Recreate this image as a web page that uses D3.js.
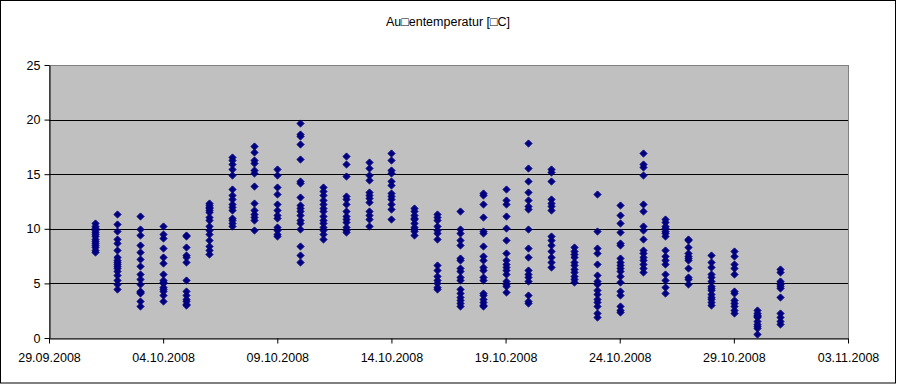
<!DOCTYPE html>
<html><head><meta charset="utf-8">
<script src="https://cdn.jsdelivr.net/npm/d3@7"></script>
<style>
html,body{margin:0;padding:0;background:#fff;}
svg text{font-family:"Liberation Sans",Arial,sans-serif;font-size:12.5px;fill:#000;}
</style></head>
<body>
<svg id="chart" width="897" height="384"></svg>
<script>
const titleText = "Au\u25A1entemperatur [\u25A1C]";
const xTickLabels = ["29.09.2008","04.10.2008","09.10.2008","14.10.2008","19.10.2008","24.10.2008","29.10.2008","03.11.2008"];
const yTicks = [0,5,10,15,20,25];
const days = ["01.10.2008","02.10.2008","03.10.2008","04.10.2008","05.10.2008","06.10.2008","07.10.2008","08.10.2008",
  "09.10.2008","10.10.2008","11.10.2008","12.10.2008","13.10.2008","14.10.2008","15.10.2008","16.10.2008",
  "17.10.2008","18.10.2008","19.10.2008","20.10.2008","21.10.2008","22.10.2008","23.10.2008","24.10.2008",
  "25.10.2008","26.10.2008","27.10.2008","28.10.2008","29.10.2008","30.10.2008","31.10.2008"];
const temps = [
  [10.5,10.3,10.1,9.9,9.7,9.5,9.3,9.1,8.9,8.7,8.5,8.3,8.1,7.9],
  [11.4,10.4,9.8,9.1,8.7,8.1,7.4,7.1,6.8,6.4,6.1,5.8,5.3,4.9,4.5,6.6,7.0],
  [11.2,10.0,9.4,8.5,7.9,7.2,6.6,5.9,5.4,4.9,4.3,4.1,3.4,2.9,4.2],
  [10.3,9.5,9.2,8.2,7.4,6.9,5.9,5.3,5.0,4.7,4.3,3.9,3.4,4.5,5.1],
  [9.4,9.3,8.3,7.6,7.4,7.0,5.3,4.3,3.9,3.4,3.1,3.0,3.6],
  [12.4,12.2,11.9,11.5,11.1,10.8,10.3,9.9,9.5,9.0,8.4,8.1,7.7,12.0,11.7],
  [16.6,16.3,15.9,15.5,14.9,13.6,13.1,12.7,12.3,12.0,11.7,11.0,10.8,10.5,10.3],
  [17.6,17.0,16.3,16.0,15.4,15.1,13.9,12.4,11.7,11.4,10.8,9.9,11.1],
  [15.5,14.9,13.8,13.2,12.3,11.7,11.3,11.0,10.2,9.9,9.5,9.3],
  [19.7,18.7,18.5,17.8,16.4,14.4,14.2,12.9,12.2,11.9,11.6,10.8,10.5,10.0,8.4,7.6,7.0,11.3],
  [13.8,13.5,13.1,12.6,12.3,11.9,11.6,10.8,10.5,10.2,9.9,9.5,9.1,11.2],
  [16.7,15.9,14.8,13.0,12.7,12.3,11.6,11.2,10.9,10.6,10.2,9.9,9.7],
  [16.1,15.6,14.9,14.5,13.4,13.1,12.8,12.5,11.6,11.3,10.9,10.3],
  [16.9,16.3,15.4,15.1,14.4,13.3,13.0,12.7,12.3,11.8,10.9,14.0],
  [11.9,11.6,11.3,10.9,10.5,10.2,9.8,9.4,11.0,10.0],
  [11.4,11.1,10.8,10.3,9.9,9.6,9.1,6.7,6.2,5.7,5.3,5.0,4.7,4.5],
  [11.6,10.0,9.6,9.0,8.5,7.3,7.1,6.4,6.1,5.6,5.3,4.5,4.1,3.8,3.5,3.2,2.9],
  [13.3,13.1,12.3,11.1,9.8,9.6,8.4,7.5,7.1,6.5,6.2,5.6,5.3,4.1,3.9,3.6,3.3,3.0,2.9],
  [13.6,12.6,12.3,11.2,10.1,9.0,7.8,7.1,6.8,6.5,6.2,5.9,5.2,4.9,4.8,4.2],
  [17.9,15.6,14.4,13.4,12.6,12.1,11.8,10.0,8.2,7.4,6.2,5.9,5.6,5.2,3.9,3.4,3.2],
  [15.5,15.2,14.4,12.7,12.4,12.1,11.7,9.3,9.0,8.5,8.0,7.4,7.0,6.5],
  [8.3,8.0,7.7,7.4,7.0,6.7,6.3,6.0,5.7,5.4,5.1],
  [13.2,9.8,8.2,7.8,6.8,5.8,5.2,4.9,4.4,4.0,3.6,3.3,2.9,2.3,1.9],
  [12.2,11.3,10.5,9.7,8.7,8.5,7.3,7.0,6.7,6.4,6.1,5.7,5.1,4.3,3.9,2.9,2.6,2.4],
  [16.9,15.9,15.7,14.9,12.3,11.6,10.3,9.9,9.1,8.1,7.8,7.4,7.1,6.8,6.4,6.0],
  [10.9,10.6,10.1,9.6,9.3,8.1,7.5,7.1,6.8,5.9,5.3,4.7,4.1,10.3,9.8],
  [9.1,9.0,8.3,7.8,7.5,7.1,6.4,5.6,5.4,4.9,7.3],
  [7.6,7.0,6.5,5.9,5.6,5.2,4.8,4.4,4.0,3.6,3.3,3.0,4.6,3.8],
  [8.0,7.5,6.8,6.4,5.9,4.3,4.1,3.5,3.2,2.9,2.3,2.6],
  [2.6,2.3,2.1,1.9,1.6,1.3,0.9,0.4,2.0,1.1],
  [6.3,6.0,5.2,4.9,4.6,3.8,2.3,1.9,1.6,1.3,5.0,4.8]
];

const parse = d3.timeParse("%d.%m.%Y");
const fmt = d3.timeFormat("%d.%m.%Y");
const points = [];
days.forEach((d,i)=>temps[i].forEach(v=>points.push({date:parse(d), value:v})));

const svg = d3.select("#chart");
const plot = {left:49, right:848, top:65, bottom:338};

// outer border
svg.append("rect").attr("x",0.5).attr("y",0.5).attr("width",895).attr("height",382.5)
  .attr("fill","#fff").attr("stroke","#000").attr("stroke-width",1);

const xTickDates = xTickLabels.map(parse);
const x = d3.scaleTime().domain([xTickDates[0], xTickDates[xTickDates.length-1]]).range([plot.left, plot.right]);
const y = d3.scaleLinear().domain([0,25]).range([plot.bottom, plot.top]);

// plot background
svg.append("rect").attr("x",plot.left).attr("y",plot.top)
  .attr("width",plot.right-plot.left).attr("height",plot.bottom-plot.top)
  .attr("fill","#C0C0C0").attr("stroke","#808080").attr("stroke-width",1)
  .attr("shape-rendering","crispEdges");

// gridlines
svg.append("g").selectAll("line").data(yTicks.filter(t=>t>0 && t<25)).join("line")
  .attr("x1",plot.left).attr("x2",plot.right)
  .attr("y1",d=>Math.round(y(d))+0.5).attr("y2",d=>Math.round(y(d))+0.5)
  .attr("stroke","#000").attr("stroke-width",1);

// axes
const xAxis = d3.axisBottom(x).tickValues(xTickDates).tickFormat(fmt).tickSize(5).tickSizeOuter(0).tickPadding(10);
const gx = svg.append("g").attr("transform",`translate(0,${plot.bottom+0.5})`).call(xAxis);
gx.select(".domain").attr("stroke","#000");
gx.selectAll(".tick line").attr("stroke","#000");
gx.selectAll("text").attr("fill","#000").style("font-size","12.5px").attr("font-family",null);

const yAxis = d3.axisLeft(y).tickValues(yTicks).tickSize(5).tickSizeOuter(0).tickPadding(4);
const gy = svg.append("g").attr("transform",`translate(${plot.left+0.5},0)`).call(yAxis);
gy.select(".domain").attr("stroke","#000");
gy.selectAll(".tick line").attr("stroke","#000");
gy.selectAll("text").attr("fill","#000").style("font-size","12.5px").attr("font-family",null);

// markers
const diamond = "M0,-3.6L3.6,0L0,3.6L-3.6,0Z";
svg.append("g").selectAll("path").data(points).join("path")
  .attr("d",diamond)
  .attr("transform",d=>`translate(${Math.round(x(d.date))+0.5},${Math.round(y(d.value))+0.5})`)
  .attr("fill","#000080").attr("stroke","#000080").attr("stroke-width",0.9);

// title
svg.append("text").attr("x",448).attr("y",26).attr("text-anchor","middle").text(titleText);
</script>
</body></html>
